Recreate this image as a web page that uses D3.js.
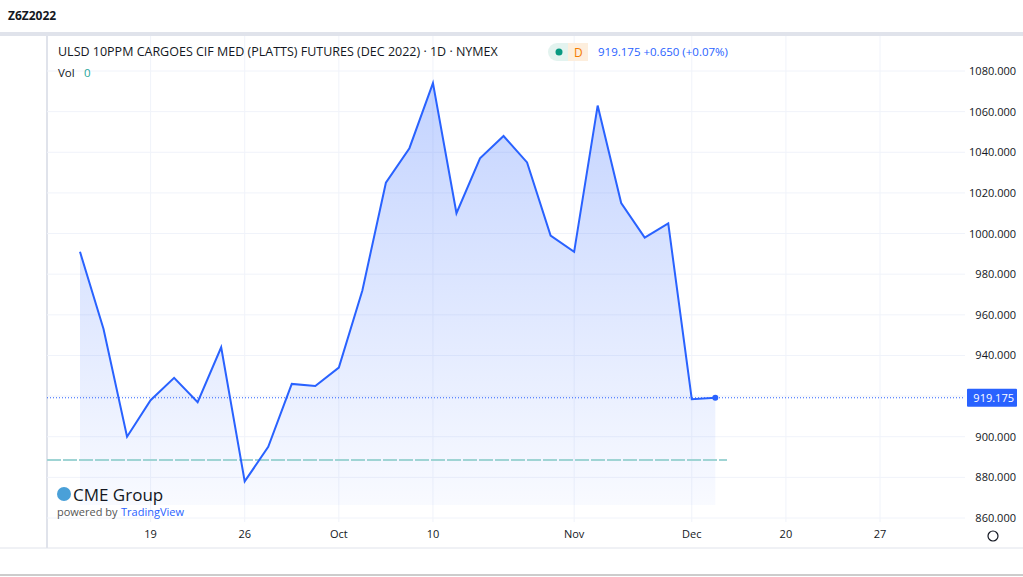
<!DOCTYPE html><html><head><meta charset="utf-8">
<script src="https://cdn.jsdelivr.net/npm/d3@7"></script>
<style>body{margin:0;background:#fff;font-family:"Open Sans",Roboto,sans-serif}</style></head><body>
<svg id="c" width="1023" height="577"></svg>
<script>
const values=[991,953,900,918,929,917,944,878,895,926,925,934,972,1025,1042,1074,1010,1037,1048,1035,999,991,1063,1015,998,1005,918.5,919.175];
const tickIdx=[3,7,11,15,21,26,30,34];
const tickLabels=["19","26","Oct","10","Nov","Dec","20","27"];
const priceTicks=[860,880,900,920,940,960,980,1000,1020,1040,1060,1080];
const last=919.175;

const svg=d3.select("#c");
const x=d3.scaleLinear().domain([0,1]).range([80,103.53]);
const y=d3.scaleLinear().domain([860,1080]).range([518,71]);
const L=47,R=965,T=36,B=545;

svg.append("text").attr("x",8).attr("y",20).attr("font-size",12).attr("font-weight",700).attr("fill","#131722").text("Z6Z2022");
svg.append("rect").attr("x",0).attr("y",32).attr("width",1023).attr("height",4).attr("fill","#e0e3eb");
svg.append("line").attr("x1",L).attr("x2",L).attr("y1",36).attr("y2",548).attr("stroke","#e0e3eb").attr("stroke-width",2);
svg.append("line").attr("x1",0).attr("x2",1023).attr("y1",548).attr("y2",548).attr("stroke","#e0e3eb");
svg.append("line").attr("x1",0).attr("x2",1023).attr("y1",575).attr("y2",575).attr("stroke","#ccc").attr("stroke-width",2);

const g=svg.append("g");
priceTicks.forEach(p=>{g.append("line").attr("x1",L).attr("x2",R).attr("y1",y(p)).attr("y2",y(p)).attr("stroke","#f0f3fa");});
tickIdx.forEach(i=>{g.append("line").attr("x1",x(i)).attr("x2",x(i)).attr("y1",T).attr("y2",522).attr("stroke","#f0f3fa");});

const defs=svg.append("defs");
const gr=defs.append("linearGradient").attr("id","gf").attr("x1",0).attr("x2",0).attr("y1",0).attr("y2",1);
gr.append("stop").attr("offset","0%").attr("stop-color","#2962ff").attr("stop-opacity",0.28);
gr.append("stop").attr("offset","100%").attr("stop-color","#2962ff").attr("stop-opacity",0.03);
svg.append("path").datum(values).attr("fill","url(#gf)").attr("d",d3.area().x((d,i)=>x(i)).y0(505).y1(d=>y(d)));

svg.append("line").attr("x1",L).attr("x2",727).attr("y1",460).attr("y2",460).attr("stroke","#9fd4d4").attr("stroke-width",2).attr("stroke-dasharray","14,2");
svg.append("line").attr("x1",L).attr("x2",R).attr("y1",y(last)).attr("y2",y(last)).attr("stroke","#2962ff").attr("stroke-dasharray","1,2");

svg.append("path").datum(values).attr("fill","none").attr("stroke","#2962ff").attr("stroke-width",2).attr("d",d3.line().x((d,i)=>x(i)).y(d=>y(d)));
svg.append("circle").attr("cx",x(values.length-1)).attr("cy",y(last)).attr("r",3).attr("fill","#2962ff");

priceTicks.forEach(p=>{svg.append("text").attr("x",1016).attr("y",y(p)+4).attr("text-anchor","end").attr("font-size",11).attr("fill","#131722").text(p.toFixed(3));});
svg.append("rect").attr("x",967).attr("y",y(last)-9).attr("width",50).attr("height",18).attr("fill","#2962ff").attr("rx",1);
svg.append("text").attr("x",1014).attr("y",y(last)+4).attr("text-anchor","end").attr("font-size",11).attr("fill","#fff").text(last.toFixed(3));

tickIdx.forEach((i,k)=>{svg.append("text").attr("x",x(i)).attr("y",538).attr("text-anchor","middle").attr("font-size",11).attr("fill","#131722").text(tickLabels[k]);});
// gear icon
svg.append("circle").attr("cx",993).attr("cy",536).attr("r",5).attr("fill","none").attr("stroke","#131722").attr("stroke-width",1.2);

svg.append("text").attr("x",58).attr("y",56).attr("font-size",12.5).attr("fill","#131722").text("ULSD 10PPM CARGOES CIF MED (PLATTS) FUTURES (DEC 2022) · 1D · NYMEX");
svg.append("rect").attr("x",548).attr("y",43).attr("width",40).attr("height",18).attr("rx",9).attr("fill","#e3f3ef");
svg.append("rect").attr("x",568).attr("y",43).attr("width",20).attr("height",18).attr("rx",0).attr("fill","#fdeedd");
svg.append("circle").attr("cx",559).attr("cy",52).attr("r",3.5).attr("fill","#089981");
svg.append("text").attr("x",574).attr("y",57).attr("font-size",12).attr("fill","#f57c00").text("D");
svg.append("text").attr("x",598).attr("y",56).attr("font-size",11.5).attr("fill","#2962ff").text("919.175  +0.650 (+0.07%)");
svg.append("text").attr("x",58).attr("y",77).attr("font-size",11.5).attr("fill","#131722").text("Vol");
svg.append("text").attr("x",84).attr("y",77).attr("font-size",11.5).attr("fill","#26a69a").text("0");

svg.append("circle").attr("cx",64).attr("cy",494).attr("r",7).attr("fill","#4aa0d8");
svg.append("text").attr("x",73).attr("y",501).attr("font-size",17).attr("fill","#131722").text("CME Group");
svg.append("text").attr("x",57).attr("y",516).attr("font-size",11).attr("fill","#555").text("powered by ");
svg.append("text").attr("x",121).attr("y",516).attr("font-size",11).attr("fill","#2962ff").text("TradingView");
</script></body></html>
